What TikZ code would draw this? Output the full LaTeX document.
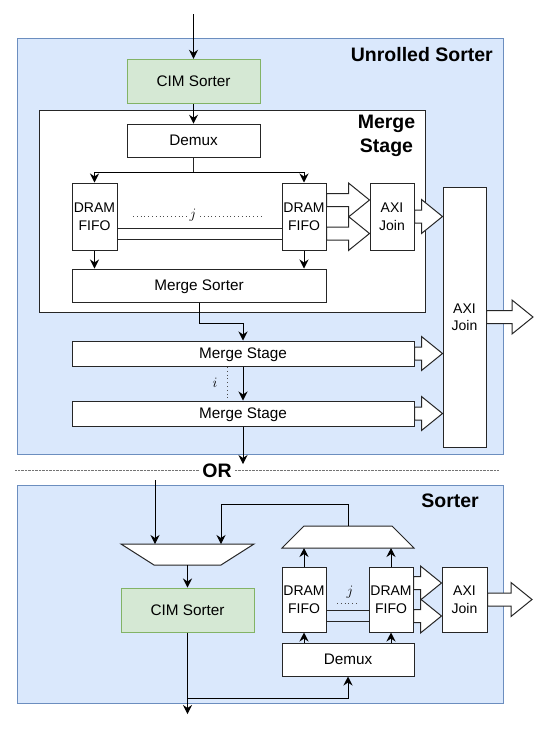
\documentclass[tikz,border=0pt]{standalone}
\usepackage{fontspec}
\setmainfont{Liberation Sans}
\usetikzlibrary{arrows.meta,calc}
\definecolor{bluefill}{HTML}{DAE8FC}
\definecolor{bluedraw}{HTML}{6C8EBF}
\definecolor{greenfill}{HTML}{D5E8D4}
\definecolor{greendraw}{HTML}{82B366}
\definecolor{edgecol}{HTML}{262626}
\newcommand{\blockarr}[2]{%
  \draw[blk] let \p1=(#1), \p2=(#2) in
    (\x1,\y1+6.5pt) -- (\x2-21pt,\y1+6.5pt) -- (\x2-21pt,\y1+17pt) -- (\x2,\y1)
    -- (\x2-21pt,\y1-17pt) -- (\x2-21pt,\y1-6.5pt) -- (\x1,\y1-6.5pt) -- cycle;}
\begin{document}
\begin{tikzpicture}[x=1pt,y=-1pt,
  box/.style={draw=edgecol, fill=white, line width=1pt, inner sep=0pt, align=center,
    font=\fontsize{15.3}{18.5}\selectfont},
  smallbox/.style={box, font=\fontsize{14}{17.5}\selectfont},
  cimbox/.style={box, draw=greendraw, fill=greenfill},
  outer/.style={draw=bluedraw, fill=bluefill, line width=1pt, inner sep=0pt},
  title/.style={font=\fontsize{19.5}{24}\selectfont\bfseries, inner sep=0pt, align=center},
  arr/.style={draw=black, line width=1pt, -{Stealth[length=9pt,width=9pt,inset=3pt]}},
  ln/.style={draw=edgecol, line width=1pt},
  blk/.style={draw=edgecol, fill=white, line width=1pt, line join=miter},
  dots/.style={draw=black!70, line width=0.7pt, dash pattern=on 0.8pt off 3pt},
  fine/.style={draw=black!55, line width=0.6pt, dash pattern=on 0.6pt off 0.8pt},
  mathlbl/.style={inner sep=0pt, font=\fontsize{15}{18}\selectfont}
]
\useasboundingbox (0,0) rectangle (544,737);

% ---------------- Unrolled sorter ----------------
\node[outer, minimum width=486, minimum height=416] (outerA) at (260,246) {};
\node[title, anchor=east] (titleA) at (493,55) {Unrolled Sorter};
\node[cimbox, minimum width=133, minimum height=44] (cimA) at (193.5,81.3) {CIM Sorter};
\node[box, minimum width=386, minimum height=202] (mergebox) at (232,211) {};
\node[title] (mtitle) at (386.5,135.5) {Merge\\Stage};
\node[box, minimum width=133, minimum height=33] (demuxA) at (193.5,140.7) {Demux};
\node[smallbox, minimum width=45, minimum height=67] (fifoA) at (94.5,216.5) {DRAM\\FIFO};
\node[smallbox, minimum width=44, minimum height=67] (fifoB) at (304,216.5) {DRAM\\FIFO};
\node[box, minimum width=254, minimum height=33, text depth=0pt] (msorter) at (199,285.5) {Merge Sorter};
\node[smallbox, minimum width=44, minimum height=67] (axiS) at (392,216.5) {AXI\\Join};
\node[smallbox, minimum width=43, minimum height=260] (axiB) at (464.5,317) {AXI\\Join};
\node[box, minimum width=342, minimum height=25, text depth=0pt] (stage1) at (243,353.5) {Merge Stage};
\node[box, minimum width=342, minimum height=25, text depth=0pt] (stage2) at (243,413.5) {Merge Stage};

\coordinate (inA) at (193.5,14);
\draw[arr] (inA) -- (cimA.north);
\draw[arr] (cimA.south) -- (demuxA.north);
\coordinate (splitA) at (193.5,172.7);
\draw[ln] (demuxA.south) -- (splitA);
\draw[arr] (splitA) -| (fifoA.north);
\draw[arr] (splitA) -| (fifoB.north);
\draw[ln] (fifoA.east |- 0,228) -- (fifoB.west |- 0,228);
\draw[ln] (fifoA.east |- 0,239) -- (fifoB.west |- 0,239);
\node[mathlbl] (jA) at (193,215) {$j$};
\draw[dots] (133,216) -- (187,216);
\draw[dots] (200,216) -- (261,216);
\draw[arr] (fifoA.south) -- (fifoA.south |- msorter.north);
\draw[arr] (fifoB.south) -- (fifoB.south |- msorter.north);
\blockarr{$(fifoB.east)+(0,-16.5)$}{$(axiS.west)+(0,-16.5)$}
\blockarr{$(fifoB.east)+(0,17)$}{$(axiS.west)+(0,17)$}
\blockarr{axiS.east}{axiS.east -| axiB.west}
\blockarr{axiB.east}{533,317}
\draw[arr] (msorter.south) -- ++(0,21) -| (stage1.north);
\draw[arr] (stage1.south) -- (stage2.north);
\draw[dots] (227,367) -- (227,398);
\node[mathlbl] (iA) at (215,383) {$i$};
\blockarr{stage1.east}{stage1.east -| axiB.west}
\blockarr{stage2.east}{stage2.east -| axiB.west}
\coordinate (outA) at (243,464);
\draw[arr] (stage2.south) -- (outA);

% ---------------- OR separator ----------------
\draw[fine] (15,470) -- (499,470);
\node[title, fill=white, inner xsep=2pt] (orlbl) at (217,470.5) {OR};

% ---------------- Sorter ----------------
\node[outer, minimum width=486, minimum height=218] (outerB) at (260,594) {};
\node[title, anchor=east] (titleB) at (479,501) {Sorter};
\draw[box] (121,544) coordinate (muxLtl) -- (254,544) -- (221,565) -- (154,565) -- cycle;
\coordinate (muxLin1) at (155,544);
\coordinate (muxLin2) at (221,544);
\coordinate (muxLout) at (187.5,565);
\draw[box] (282,548) -- (414,548) -- (392,526) -- (304,526) -- cycle;
\coordinate (muxRin1) at (304,548);
\coordinate (muxRin2) at (391,548);
\coordinate (muxRout) at (348,526);
\node[cimbox, minimum width=133, minimum height=44] (cimB) at (187.5,610) {CIM Sorter};
\node[smallbox, minimum width=44, minimum height=65] (fifoC) at (304,599.5) {DRAM\\FIFO};
\node[smallbox, minimum width=44, minimum height=65] (fifoD) at (391,599.5) {DRAM\\FIFO};
\node[smallbox, minimum width=45, minimum height=65] (axiC) at (464.5,599.5) {AXI\\Join};
\node[box, minimum width=132, minimum height=33] (demuxB) at (348,659.5) {Demux};

\coordinate (inB) at (155,480);
\draw[arr] (inB) -- (muxLin1);
\draw[arr] (muxRout) -- ++(0,-22) -| (muxLin2);
\draw[arr] (muxLout) -- (cimB.north);
\draw[arr] (fifoC.north) -- (muxRin1);
\draw[arr] (fifoD.north) -- (muxRin2);
\draw[arr] (demuxB.north -| fifoC.south) -- (fifoC.south);
\draw[arr] (demuxB.north -| fifoD.south) -- (fifoD.south);
\draw[ln] (fifoC.east |- 0,610) -- (fifoD.west |- 0,610);
\draw[ln] (fifoC.east |- 0,621) -- (fifoD.west |- 0,621);
\node[mathlbl] (jB) at (350,592) {$j$};
\draw[dots] (337,603) -- (357,603);
\blockarr{$(fifoD.east)+(0,-16.5)$}{$(axiC.west)+(0,-16.5)$}
\blockarr{$(fifoD.east)+(0,16.5)$}{$(axiC.west)+(0,16.5)$}
\blockarr{axiC.east}{532,599.5}
\coordinate (outB) at (187.5,714);
\coordinate (branchB) at (187.5,698);
\draw[arr] (cimB.south) -- (outB);
\draw[arr] (branchB) -| (demuxB.south);
\end{tikzpicture}
\end{document}
